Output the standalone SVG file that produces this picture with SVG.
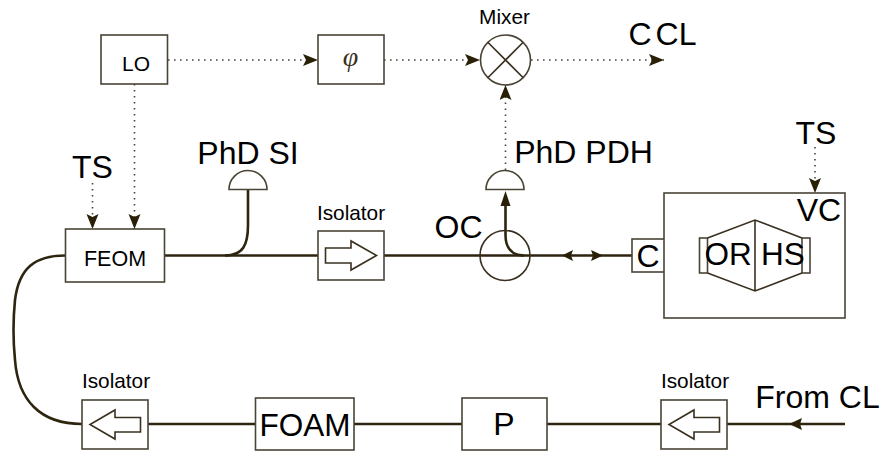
<svg xmlns="http://www.w3.org/2000/svg" width="881" height="461" viewBox="0 0 881 461">
<style>
text{font-family:"Liberation Sans",Arial,sans-serif;fill:#000;text-anchor:middle}
.b{fill:#fff;stroke:#4a4436;stroke-width:1.6}
.o{fill:none;stroke:#3a3020;stroke-width:1.6}
.f{fill:none;stroke:#2e2510;stroke-width:2.600}
.d{fill:none;stroke:#4a4436;stroke-width:1.6;stroke-dasharray:1.6 4.4}
.h{fill:#2a2008}
.t30{font-size:32px}.t20{font-size:20.8px}
</style>
<defs>
<marker id="a" markerUnits="userSpaceOnUse" markerWidth="16" markerHeight="14" refX="15" refY="6" orient="auto"><path class="h" d="M0 0L15 6L0 12L3 6Z"/></marker>
</defs>
<rect width="881" height="461" fill="#fff"/>
<g id="connectors">
<path class="d" d="M168 60H318" marker-end="url(#a)"/>
<path class="d" d="M384 60H480" marker-end="url(#a)"/>
<path class="d" d="M531 60H664" marker-end="url(#a)"/>
<path class="d" d="M505.500 170V85" marker-end="url(#a)"/>
<path class="d" d="M134.500 84V229" marker-end="url(#a)"/>
<path class="d" d="M92.500 183V229" marker-end="url(#a)"/>
<path class="d" d="M815 147V193" marker-end="url(#a)"/>
<path class="f" d="M164 255.500H318M384 255.500H632"/>
<path class="f" d="M225 255.500C243 255.500 248 245 248 225V190"/>
<path class="f" d="M505.500 204V235C505.500 248 512 255.500 524 255.500"/>
<path class="h" d="M505.500 191L510.500 206H500.500Z"/>
<path class="h" d="M562 255.500L573 250L571 255.500L573 261Z"/>
<path class="h" d="M603 255.500L591 250L593 255.500L591 261Z"/>
<path class="f" d="M65 255.500C35 255.500 19 268 15 300C13 320 13 340 15 360C18 400 40 424 82 424"/>
<path class="f" d="M148 424H255.500M354 424H462M547 424H661M727 424H845"/>
<path class="h" d="M789 424L802 418L800 424L802 430Z"/>
</g>
<g id="lo"><rect class="b" x="101" y="35" width="66.500" height="49"/><text x="136" y="71" style="font-size:21px">LO</text></g>
<g id="phase"><rect class="b" x="318" y="35" width="66" height="49"/><text x="350.500" y="66" style="font-size:28px;font-family:'Liberation Serif',serif;font-style:italic;fill:#3a3020">φ</text></g>
<g id="mixer"><circle class="b" cx="505.500" cy="60" r="25"/><path class="o" d="M487.800 42.300L523.200 77.700M523.200 42.300L487.800 77.700"/><text x="504.500" y="23.500" class="t20">Mixer</text></g>
<g id="ccl"><text x="662.500" y="45" class="t30" style="word-spacing:-5px">C CL</text></g>
<g id="ts1"><text x="92.500" y="178" class="t30">TS</text></g>
<g id="feom"><rect class="b" x="65.500" y="229" width="99" height="53"/><text x="115" y="266" style="font-size:21.500px">FEOM</text></g>
<g id="phd-si"><path class="b" d="M229 189.500A19 19 0 0 1 267 189.500Z"/><text x="248" y="164" class="t30">PhD SI</text></g>
<g id="isolator1"><rect class="b" x="318" y="231" width="66" height="49"/><path class="o" d="M325.500 248H351V241L376.500 255.500L351 270V263H325.500Z"/><text x="351" y="220" class="t20">Isolator</text></g>
<g id="oc"><circle class="o" cx="505" cy="255.500" r="25"/><text x="458.500" y="237.500" class="t30">OC</text></g>
<g id="phd-pdh"><path class="b" d="M486 189.500A19 19 0 0 1 524 189.500Z"/><text x="583.500" y="163" class="t30">PhD PDH</text></g>
<g id="coupler"><rect class="b" x="632" y="239" width="33" height="33"/><text x="648" y="267" class="t30">C</text></g>
<g id="ts2"><text x="816" y="144" class="t30">TS</text></g>
<g id="vc"><rect class="b" x="664" y="193" width="181" height="125"/><text x="819" y="221" class="t30">VC</text></g>
<g id="cavity">
<rect class="b" x="699.500" y="238" width="8" height="35"/><rect class="b" x="802" y="238" width="8" height="35"/>
<path class="o" d="M707.500 238L755 220L802 238M707.500 273L755 291L802 273M755 220V291"/>
<text x="728" y="264.500" style="font-size:31.500px">OR</text><text x="783" y="264.500" style="font-size:31.500px">HS</text>
</g>
<g id="isolator2"><rect class="b" x="82" y="400" width="66" height="49"/><path class="o" d="M140.500 417.500H115V410L90 424.500L115 439V432H140.500Z"/><text x="116" y="388" class="t20">Isolator</text></g>
<g id="foam"><rect class="b" x="255.500" y="398" width="98.500" height="52"/><text x="305" y="436" style="font-size:31.500px">FOAM</text></g>
<g id="p"><rect class="b" x="462" y="398" width="85" height="52"/><text x="504" y="435" class="t30">P</text></g>
<g id="isolator3"><rect class="b" x="661" y="400" width="66" height="49"/><path class="o" d="M719.500 417.500H694V410L669 424.500L694 439V432H719.500Z"/><text x="695" y="388" class="t20">Isolator</text></g>
<g id="from-cl"><text x="817.500" y="408" class="t30">From CL</text></g>
</svg>
